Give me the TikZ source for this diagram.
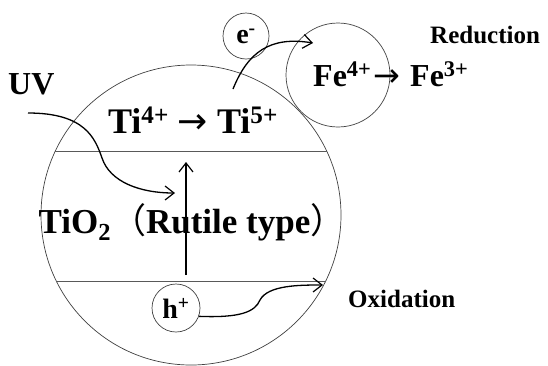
\documentclass[tikz,border=0pt]{standalone}
\usepackage{fontspec}
\setmainfont{Liberation Serif}
\newfontfamily\cjk{Noto Sans CJK JP}
\newfontfamily\arrowfont{DejaVu Sans}
\usetikzlibrary{arrows.meta}
\tikzset{ring/.style={draw=black!75,line width=0.7pt,circle,inner sep=0pt},band/.style={draw=black!65,line width=0.8pt},flow/.style={-{Straight Barb[length=9pt,width=14pt,line width=1.2pt]},line width=1.3pt},lbl/.style={font=\fontsize{#1}{#1}\selectfont\bfseries,inner sep=0pt}}
\newcommand\goesto{{\arrowfont\mdseries →}}

\begin{document}
\begin{tikzpicture}[x=1pt,y=-1pt]
\useasboundingbox (0,0) rectangle (548,365);
\node[ring,minimum size=300pt] (rutile) at (191,215) {};
\node[ring,minimum size=104pt] (fe) at (338,75) {};
\node[ring,minimum size=46pt,lbl=28] (elec) at (246,36) {e\textsuperscript{-}};
\node[ring,minimum size=48pt,lbl=28] (hole) at (176,308) {h\textsuperscript{+}};
\draw[band] (rutile.155) -- (rutile.25);
\draw[band] (rutile.206) -- (rutile.334);
\node[lbl=36,anchor=base] (ti) at (193,133) {Ti\textsuperscript{4+} \goesto{} Ti\textsuperscript{5+}};
\node[lbl=35,anchor=base] (tio) at (192,233) {TiO\textsubscript{2}{\cjk\mdseries （}Rutile type{\cjk\mdseries ）}};
\node[lbl=32,anchor=base west] (ferd) at (313,86) {Fe\textsuperscript{4+}\hspace{2pt}\goesto\hspace{10pt}Fe\textsuperscript{3+}};
\node[lbl=32,anchor=base west] (uv) at (8,94) {UV};
\node[lbl=25,anchor=base west] (red) at (430,43) {Reduction};
\node[lbl=25,anchor=base west] (ox) at (348,307) {Oxidation};
\coordinate (uvin) at (28,113);
\coordinate (uvhit) at (175,193);
\coordinate (cb) at (186,275);
\coordinate (vb) at (186,162);
\coordinate (eout) at (233,89);
\coordinate (ein) at (313,43);
\coordinate (hout) at (323,285);
\draw[flow] (uvin) .. controls (85,113) and (95,138) .. (102,158) .. controls (110,182) and (140,193) .. (uvhit);
\draw[flow] (cb) -- (vb);
\draw[flow] (eout) .. controls (248,52) and (270,36) .. (ein);
\draw[flow] (hole.-20) .. controls (240,318) and (255,312) .. (260,300) .. controls (268,285) and (300,285) .. (hout);
\end{tikzpicture}
\end{document}
